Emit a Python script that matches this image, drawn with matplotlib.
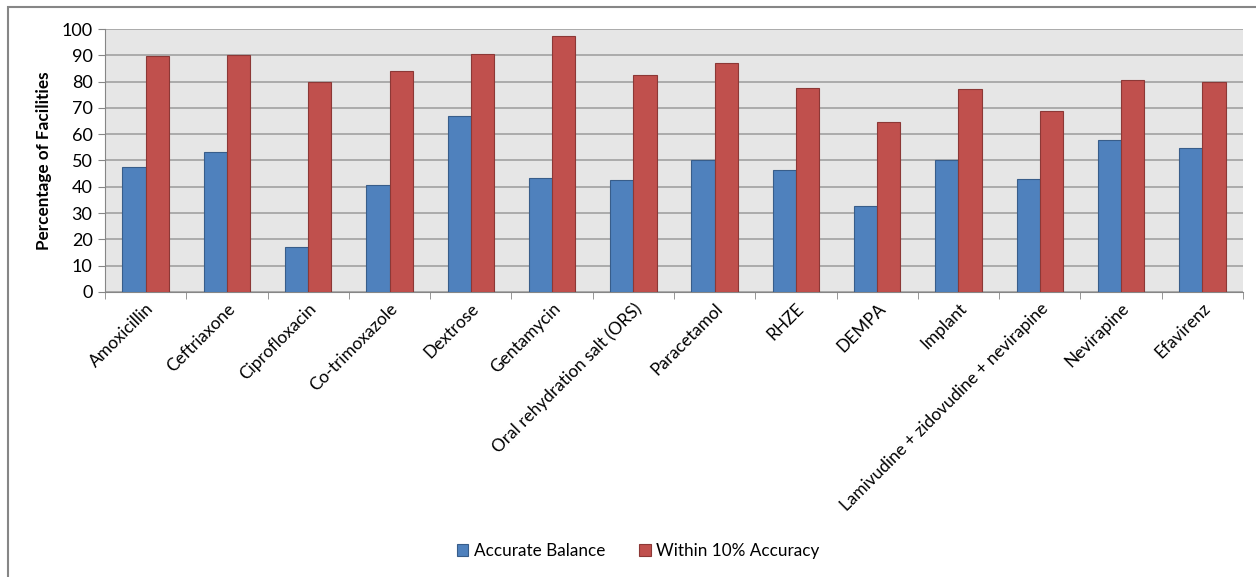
import numpy as np
import matplotlib.pyplot as plt
from matplotlib.patches import Rectangle

drugs = ["Amoxicillin", "Ceftriaxone", "Ciprofloxacin", "Co-trimoxazole", "Dextrose",
         "Gentamycin", "Oral rehydration salt (ORS)", "Paracetamol", "RHZE", "DEMPA",
         "Implant", "Lamivudine + zidovudine + nevirapine", "Nevirapine", "Efavirenz"]
accurate = [47.5, 53.3, 17.1, 40.8, 67.0, 43.3, 42.4, 50.2, 46.2, 32.8, 50.2, 43.1, 57.8, 54.8]
within10 = [89.9, 90.1, 79.7, 84.1, 90.6, 97.5, 82.4, 87.2, 77.6, 64.6, 77.0, 68.8, 80.6, 80.0]

plt.rcParams['font.family'] = ['Lato', 'DejaVu Sans']

fig = plt.figure(figsize=(12.56, 5.77), dpi=100)
ax = fig.add_axes([105 / 1256, 1 - 292 / 577, 1138 / 1256, 263 / 577])

x = np.arange(len(drugs))
w = 0.286
ax.bar(x - w / 2, accurate, width=w, color="#4F81BD", edgecolor="#385D8A", linewidth=0.8,
       label="Accurate Balance", zorder=3)
ax.bar(x + w / 2, within10, width=w, color="#C0504D", edgecolor="#8C3836", linewidth=0.8,
       label="Within 10% Accuracy", zorder=3)

ax.set_facecolor("#E6E6E6")
ax.set_xlim(-0.5, len(drugs) - 0.5)
ax.set_ylim(0, 100)
ax.set_yticks(range(0, 101, 10))
ax.yaxis.grid(True, color="#A6A6A6", linewidth=1.3, zorder=0)
ax.set_axisbelow(True)

ax.set_xticks(x)
ax.set_xticklabels(drugs, rotation=45, ha="right", rotation_mode="anchor", fontsize=12.4)
ax.tick_params(axis="x", length=0, pad=6)
ax.set_xticks(np.arange(-0.5, len(drugs)), minor=True)
ax.tick_params(axis="x", which="minor", length=5, color="#868686")
ax.tick_params(axis="y", labelsize=13, length=5, color="#868686", pad=4)

for s in ["top", "right"]:
    ax.spines[s].set_visible(False)
for s in ["left", "bottom"]:
    ax.spines[s].set_color("#868686")

ax.set_ylabel("Percentage of Facilities", fontsize=12.3, fontweight="bold", labelpad=7)

fig.legend(loc="center", bbox_to_anchor=(0.508, 1 - 551 / 577), ncol=2, frameon=False,
           fontsize=12.3, handlelength=0.7, handleheight=0.7, handletextpad=0.3,
           columnspacing=2.0)

fig.add_artist(Rectangle((8 / 1256, -0.1), 1.2, 1 - 7 / 577 + 0.1, transform=fig.transFigure,
                         fill=False, edgecolor="#868686", linewidth=1.5))

fig.savefig("out.png", dpi=100)
